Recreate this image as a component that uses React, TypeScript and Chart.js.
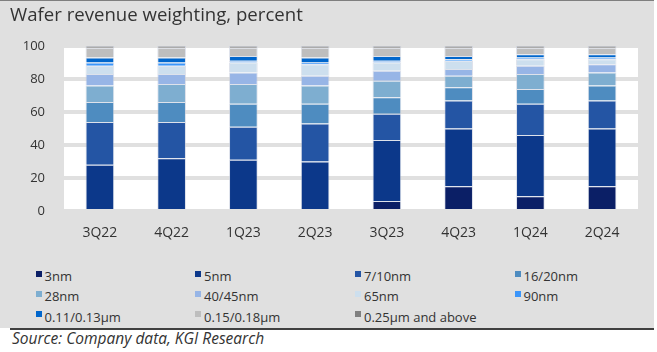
import React, { useEffect, useRef } from 'react';
import { Chart, registerables } from 'chart.js';

Chart.register(...registerables);

const categories = ['3Q22', '4Q22', '1Q23', '2Q23', '3Q23', '4Q23', '1Q24', '2Q24'];

const n3 = [null, null, null, null, 6, 15, 9, 15];
const n5 = [28, 32, 31, 30, 37, 35, 37, 35];
const n7 = [26, 22, 20, 23, 16, 17, 19, 17];
const n16 = [12, 12, 14, 12, 10, 8, 9, 9];
const n28 = [10, 11, 12, 11, 10, 7, 9, 8];
const n40 = [7, 6, 7, 6, 6, 4, 5, 5];
const n65 = [5, 5, 6, 7, 5, 5, 4, 3];
const n90 = [2, 2, 1, 1, 1, 1, 1, 1];
const n011 = [3, 3, 3, 3, 3, 2, 2, 2];
const n015 = [6, 6, 5, 6, 5, 5, 4, 4];
const n025 = [1, 1, 1, 1, 1, 1, 1, 1];

const seriesLabels = [
  '3nm', '5nm', '7/10nm', '16/20nm', '28nm', '40/45nm', '65nm', '90nm',
  '0.11/0.13µm', '0.15/0.18µm', '0.25µm and above',
];
const seriesValues = [n3, n5, n7, n16, n28, n40, n65, n90, n011, n015, n025];
const seriesColors = [
  '#0b1f66', '#0c388a', '#2455a4', '#4e8cc0', '#7eaed0', '#97b5e6',
  '#cddfee', '#3c96fa', '#0066cc', '#bebebe', '#808080',
];
const yTicks = [0, 20, 40, 60, 80, 100];

const FONT = '"Open Sans", "Noto Sans", sans-serif';

export default function App() {
  const ref = useRef<HTMLCanvasElement>(null);

  useEffect(() => {
    const plotBg = {
      id: 'plotBg',
      beforeDraw(c: any) {
        const { ctx, chartArea: a } = c;
        ctx.save();
        ctx.fillStyle = '#ffffff';
        ctx.fillRect(a.left, a.top, a.right - a.left, a.bottom - a.top);
        ctx.restore();
      },
    };
    const chart = new Chart(ref.current as HTMLCanvasElement, {
      type: 'bar',
      data: {
        labels: categories,
        datasets: seriesLabels.map((label, i) => ({
          label,
          data: seriesValues[i] as any,
          backgroundColor: seriesColors[i],
          borderColor: 'rgba(195,202,218,0.55)',
          borderWidth: 1,
          categoryPercentage: 1,
          barPercentage: 0.4,
        })),
      },
      options: {
        responsive: false,
        animation: false,
        devicePixelRatio: 1,
        layout: { padding: { top: 46, right: 16, left: 0, bottom: 0 } },
        plugins: {
          legend: { display: false },
          tooltip: { enabled: false },
          title: { display: false },
        },
        scales: {
          x: {
            stacked: true,
            grid: { display: false },
            border: { display: false },
            ticks: { color: '#333333', font: { family: FONT, size: 14 }, padding: 6 },
            afterFit: (s: any) => { s.height = 39; },
          },
          y: {
            stacked: true,
            min: 0,
            max: 100,
            grid: { color: '#e0e0e0', lineWidth: 4, drawTicks: false },
            border: { display: false },
            ticks: { color: '#333333', font: { family: FONT, size: 13 }, padding: 19 },
            afterBuildTicks: (s: any) => { s.ticks = yTicks.map((v) => ({ value: v })); },
            afterFit: (s: any) => { s.width = 64; },
          },
        },
      },
      plugins: [plotBg],
    });
    return () => chart.destroy();
  }, []);

  const colX = [35.5, 195, 355, 514.5];
  const rowMid = [275, 295, 315.3];

  return (
    <div style={{ position: 'fixed', left: 0, top: 0, width: 657, height: 352, background: '#ffffff', fontFamily: FONT, overflow: 'hidden' }}>
      <div style={{ position: 'absolute', left: 0, top: 0, width: 654, height: 328, background: '#e0e0e0', borderTop: '1px solid #7f7f7f', boxSizing: 'border-box' }} />
      <div style={{ position: 'absolute', left: 10, top: 328, width: 644, height: 1.5, background: '#404040' }} />
      <canvas ref={ref} width={654} height={250} style={{ position: 'absolute', left: 0, top: 0 }} />
      <div style={{ position: 'absolute', left: 10, top: 4.8, fontSize: 18.6, lineHeight: '18.6px', color: '#333333', whiteSpace: 'nowrap' }}>
        Wafer revenue weighting, percent
      </div>
      {seriesLabels.map((label, i) => {
        const c = i % 4;
        const r = Math.floor(i / 4);
        return (
          <div key={label} style={{ position: 'absolute', left: colX[c], top: rowMid[r] - 6.9, height: 13, whiteSpace: 'nowrap' }}>
            <div style={{ position: 'absolute', left: 0, top: 2.9, width: 6, height: 6, background: seriesColors[i] }} />
            <div style={{ position: 'absolute', left: 9, top: 2.3, fontSize: 13, lineHeight: '13px', color: '#333333' }}>{label}</div>
          </div>
        );
      })}
      <div style={{ position: 'absolute', left: 12, top: 330.5, fontSize: 15.5, lineHeight: '15.5px', fontStyle: 'italic', color: '#333333', whiteSpace: 'nowrap' }}>
        Source: Company data, KGI Research
      </div>
    </div>
  );
}
